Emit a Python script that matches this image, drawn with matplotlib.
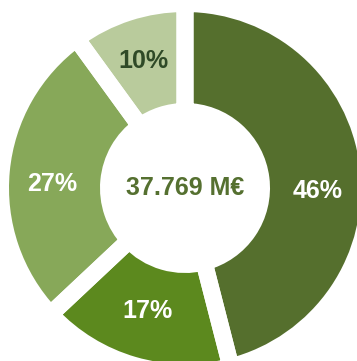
import matplotlib
matplotlib.use("Agg")
import matplotlib.pyplot as plt

# slice shares (percent), clockwise from 12 o'clock
shares = [46, 17, 27, 10]
labels = ["46%", "17%", "27%", "10%"]
colors = ["#556f2d", "#5c891e", "#87a859", "#b9cb9c"]
label_colors = ["#ffffff", "#ffffff", "#ffffff", "#2f4a27"]
total_label = "37.769 M€"

plt.rcParams["font.family"] = ["Liberation Sans", "DejaVu Sans"]

PX = 176  # pixels per data unit (outer radius)

fig = plt.figure(figsize=(3.57, 3.61), dpi=100)
ax = fig.add_axes([0, 0, 1, 1])
ax.set_aspect("equal")
ax.axis("off")

gap_px = 17
half = gap_px / 2 / PX
R = 1.0 + half
inner = 85 / PX - half
width = R - inner

wedges, texts = ax.pie(shares, colors=colors, startangle=90, counterclock=False,
                       radius=R, wedgeprops=dict(width=width, linewidth=0),
                       labels=labels, labeldistance=0.76 / R)
# small per-label vertical nudges (pixels) to sit like the original
nudges = [-20, 5, -9, 0]
for t, c, dy in zip(texts, label_colors, nudges):
    x, y = t.get_position()
    t.set_position((x, y + dy / PX))
    t.set_color(c)
    t.set_fontsize(18)
    t.set_fontweight("bold")
    t.set_ha("center")
    t.set_va("center")

# white separators drawn on top of all fills
ax.pie(shares, colors=["none"] * len(shares), startangle=90, counterclock=False,
       radius=R, wedgeprops=dict(width=width, linewidth=gap_px * 72 / 100,
                                 edgecolor="white", facecolor="none"))

ax.set_xlim(-185 / PX, (357 - 185) / PX)
ax.set_ylim(-(361 - 188) / PX, 188 / PX)
ax.text(0, 0, total_label, ha="center", va="center", fontsize=18,
        fontweight="bold", color="#557030")

fig.savefig("out.png", dpi=100, facecolor="white")
